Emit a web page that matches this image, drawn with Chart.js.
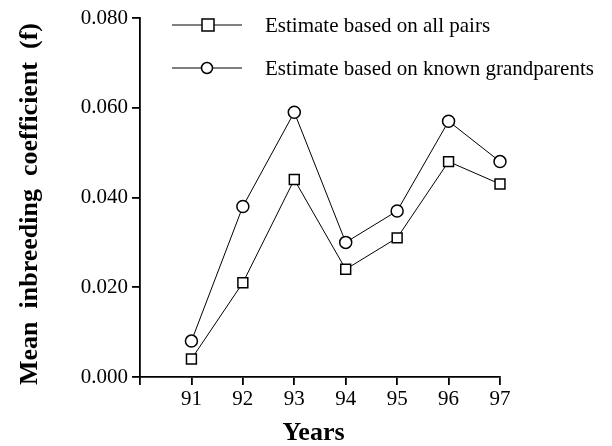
<!DOCTYPE html>
<html>
<head>
<meta charset="utf-8">
<script src="https://cdn.jsdelivr.net/npm/chart.js@4.4.0/dist/chart.umd.min.js"></script>
<style>
  html, body { margin: 0; padding: 0; background: #fff; }
  #wrap { width: 612px; height: 446px; }
</style>
</head>
<body>
<div id="wrap"><canvas id="c" width="612" height="446"></canvas></div>
<script>
const years = [91, 92, 93, 94, 95, 96, 97];
const allPairs = [0.004, 0.021, 0.044, 0.024, 0.031, 0.048, 0.043];
const knownGrandparents = [0.008, 0.038, 0.059, 0.030, 0.037, 0.057, 0.048];
const yTicks = [0.000, 0.020, 0.040, 0.060, 0.080];
const seriesLabels = ['Estimate based on all pairs', 'Estimate based on known grandparents'];

const serif = "'Liberation Serif', 'DejaVu Serif', serif";

const legendPlugin = {
  id: 'customLegend',
  afterDraw(chart) {
    const ctx = chart.ctx;
    const rows = [25, 68];
    chart.data.datasets.forEach((ds, i) => {
      const y = rows[i];
      ctx.save();
      ctx.strokeStyle = '#000';
      ctx.lineWidth = 1;
      ctx.beginPath();
      ctx.moveTo(172, y);
      ctx.lineTo(242, y);
      ctx.stroke();
      ctx.lineWidth = 1.5;
      ctx.fillStyle = '#fff';
      if (ds.pointStyle === 'rect') {
        ctx.fillRect(202, y - 6, 12, 12);
        ctx.strokeRect(202, y - 6, 12, 12);
      } else {
        ctx.beginPath();
        ctx.arc(207, y, 5.5, 0, Math.PI * 2);
        ctx.fill();
        ctx.stroke();
      }
      ctx.fillStyle = '#000';
      ctx.font = "21px " + serif;
      ctx.textBaseline = 'middle';
      ctx.textAlign = 'left';
      ctx.fillText(ds.label, 265, y + 1);
      ctx.restore();
    });
  }
};

new Chart(document.getElementById('c'), {
  type: 'line',
  data: {
    datasets: [
      {
        label: seriesLabels[0],
        data: years.map((x, i) => ({ x: x, y: allPairs[i] })),
        borderColor: '#000',
        borderWidth: 1,
        pointStyle: 'rect',
        pointRadius: 7,
        pointBorderWidth: 1.5,
        pointBackgroundColor: '#fff',
        pointBorderColor: '#000',
        tension: 0,
        clip: false
      },
      {
        label: seriesLabels[1],
        data: years.map((x, i) => ({ x: x, y: knownGrandparents[i] })),
        borderColor: '#000',
        borderWidth: 1,
        pointStyle: 'circle',
        pointRadius: 6,
        pointBorderWidth: 1.5,
        pointBackgroundColor: '#fff',
        pointBorderColor: '#000',
        tension: 0,
        clip: false
      }
    ]
  },
  options: {
    responsive: false,
    animation: false,
    devicePixelRatio: 1,
    layout: { padding: { top: 18, right: 112, bottom: 0, left: 0 } },
    plugins: {
      legend: { display: false },
      tooltip: { enabled: false }
    },
    scales: {
      x: {
        type: 'linear',
        min: 90,
        max: 97,
        afterBuildTicks(scale) {
          scale.ticks = [90].concat(years).map(v => ({ value: v }));
        },
        afterFit(scale) { scale.height = 69; },
        border: { display: true, color: '#000', width: 1.8 },
        grid: { display: true, drawOnChartArea: false, drawTicks: true, tickLength: 8, color: '#000', lineWidth: 1.8 },
        ticks: {
          color: '#000',
          font: { family: serif, size: 21 },
          padding: 2,
          maxRotation: 0,
          autoSkip: false,
          callback: v => (v === 90 ? '' : String(v))
        },
        title: {
          display: true,
          text: 'Years  ',
          color: '#000',
          font: { family: serif, size: 26, weight: 'bold', lineHeight: 1 },
          padding: { top: 0, bottom: 0 }
        }
      },
      y: {
        type: 'linear',
        min: 0,
        max: 0.08,
        afterBuildTicks(scale) {
          scale.ticks = yTicks.map(v => ({ value: v }));
        },
        afterFit(scale) { scale.width = 140; },
        border: { display: true, color: '#000', width: 1.8 },
        grid: { display: true, drawOnChartArea: false, drawTicks: true, tickLength: 8, color: '#000', lineWidth: 1.8 },
        ticks: {
          color: '#000',
          font: { family: serif, size: 21 },
          padding: 4,
          autoSkip: false,
          callback: v => Number(v).toFixed(3)
        },
        title: {
          display: true,
          text: 'Mean  inbreeding  coefficient  (f)  ',
          color: '#000',
          font: { family: serif, size: 26, weight: 'bold', lineHeight: 1.2 },
          padding: { top: 15, bottom: 0 }
        }
      }
    }
  },
  plugins: [legendPlugin]
});
</script>
</body>
</html>
